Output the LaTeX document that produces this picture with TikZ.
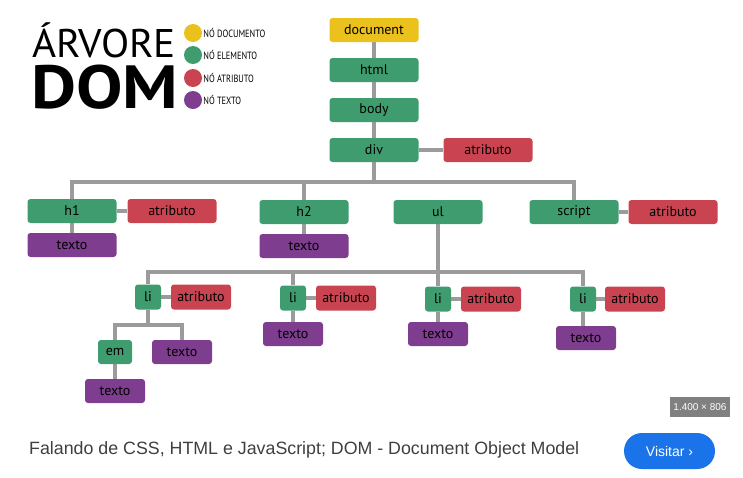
\documentclass[tikz,border=0pt]{standalone}
\usepackage{fontspec}
\setmainfont{PT Sans}
\newfontfamily\capfont{Liberation Sans}
\usepackage{tikz}
\usetikzlibrary{backgrounds,calc,positioning}
\definecolor{docyellow}{RGB}{235,193,30}
\definecolor{elgreen}{RGB}{62,156,111}
\definecolor{atred}{RGB}{201,68,80}
\definecolor{txpurple}{RGB}{126,61,143}
\definecolor{linegray}{RGB}{155,155,155}
\definecolor{badgegray}{RGB}{128,128,128}
\definecolor{gblue}{RGB}{26,115,232}
\definecolor{capgray}{RGB}{60,64,67}

\begin{document}
\begin{tikzpicture}
[x=1pt,y=-1pt,
			box/.style={rectangle,rounded corners=3pt,inner sep=0pt,minimum width=89pt,
				minimum height=24pt,font=\fontsize{14}{14}\selectfont},
			doc/.style={box,fill=docyellow},
			el/.style={box,fill=elgreen},
			attr/.style={box,fill=atred},
			txt/.style={box,fill=txpurple},
			small/.style={minimum width=60pt,minimum height=25pt},
			tiny/.style={minimum width=26pt,minimum height=25pt},
			key/.style={circle,inner sep=0pt,minimum size=18pt},
			keytext/.style={anchor=west,inner sep=1pt,font=\fontsize{10.5}{10.5}\selectfont},
			link/.style={draw=linegray,line width=3.5pt}]
\useasboundingbox (0,0) rectangle (743,477);

\node (arvore) at (32,57)[anchor=base west,inner sep=0pt,text depth=0pt,
			font=\fontsize{40}{40}\selectfont] {\scalebox{1.03}[1]{ÁRVORE}};
\node (dom) at (31,108)[anchor=base west,inner sep=0pt,text height=44pt,text depth=0pt,
			font=\fontsize{61}{61}\selectfont\bfseries] {\scalebox{1.14}[1]{DOM}};

\node (kdoc) at (193,33)[key,fill=docyellow] {};
\node (kel) at (193,55)[key,fill=elgreen] {};
\node (kattr) at (193,78)[key,fill=atred] {};
\node (ktxt) at (193,100)[key,fill=txpurple] {};
\node (ldoc) at (kdoc.east)[keytext] {\scalebox{0.8}[1]{NÓ DOCUMENTO}};
\node (lel) at (kel.east)[keytext] {\scalebox{0.8}[1]{NÓ ELEMENTO}};
\node (lattr) at (kattr.east)[keytext] {\scalebox{0.8}[1]{NÓ ATRIBUTO}};
\node (ltxt) at (ktxt.east)[keytext] {\scalebox{0.8}[1]{NÓ TEXTO}};

\node (document) at (374,30)[doc] {document};
\node (html) at (374,70)[el] {html};
\node (body) at (374,110)[el] {body};
\node (div) at (374,150)[el] {div};
\node (divattr) at (488,150)[attr] {atributo};

\node (h1) at (72,211)[el] {h1};
\node (h1attr) at (172,211)[attr] {atributo};
\node (h1txt) at (72,245)[txt] {texto};
\node (h2) at (304,212)[el] {h2};
\node (h2txt) at (304,246)[txt] {texto};
\node (ul) at (438,212)[el] {ul};
\node (script) at (574,212)[el] {script};
\node (scriptattr) at (673,212)[attr] {atributo};

\node (li1) at (148,297)[el,tiny] {li};
\node (li1attr) at (201,297)[attr,small] {atributo};
\node (em) at (115,352)[el,minimum width=34pt] {em};
\node (li1txt) at (182,352)[txt,small,minimum height=24pt] {texto};
\node (emtxt) at (115,391)[txt,small,minimum height=24pt] {texto};

\node (li2) at (293,298)[el,tiny] {li};
\node (li2attr) at (346,298)[attr,small] {atributo};
\node (li2txt) at (293,334)[txt,small,minimum height=24pt] {texto};
\node (li3) at (438,299)[el,tiny] {li};
\node (li3attr) at (491,299)[attr,small] {atributo};
\node (li3txt) at (438,334)[txt,small,minimum height=24pt] {texto};
\node (li4) at (583,299)[el,tiny] {li};
\node (li4attr) at (635,299)[attr,small] {atributo};
\node (li4txt) at (586,338)[txt,small,minimum height=24pt] {texto};

\coordinate (bus1) at (374,182);
\coordinate (bus2) at (438,272);
\coordinate (bus3) at (148,325);

\begin{scope}[on background layer]
\draw[link] (document) -- (html) -- (body) -- (div) -- (bus1);
\draw[link] (div) -- (divattr);
\draw[link] (h1) |- (bus1) -| (script);
\draw[link] (h2) -- (h2 |- bus1);
\draw[link] (ul) -- (bus2);
\draw[link] (h1) -- (h1attr);
\draw[link] (h1) -- (h1txt);
\draw[link] (h2) -- (h2txt);
\draw[link] (script) -- (scriptattr);

\draw[link] (li1) |- (bus2) -| (li4);
\draw[link] (li2) -- (li2 |- bus2);
\draw[link] (li3) -- (li3 |- bus2);
\draw[link] (li1) -- (li1attr);
\draw[link] (li2) -- (li2attr);
\draw[link] (li3) -- (li3attr);
\draw[link] (li4) -- (li4attr);
\draw[link] (li2) -- (li2txt);
\draw[link] (li3) -- (li3txt);
\draw[link] (li4) -- (li4txt.north -| li4);

\draw[link] (li1) -- (bus3);
\draw[link] (em) |- (bus3) -| (li1txt);
\draw[link] (em) -- (emtxt);
\end{scope}

\node (badge) at (700,407)[rectangle,fill=badgegray,minimum width=60pt,minimum height=20pt,inner sep=0pt,
			text=white,font=\capfont\fontsize{10}{10}\selectfont] {1.400 × 806};
\node (caption) at (29,450)[anchor=west,inner sep=0pt,text=capgray,
			font=\capfont\fontsize{17.8}{17.8}\selectfont] {Falando de CSS, HTML e JavaScript; DOM - Document Object Model};
\node (visit) at (669.5,451)[rectangle,rounded corners=17.9pt,fill=gblue,minimum width=91pt,minimum height=36pt,
			inner sep=0pt,text=white,font=\capfont\fontsize{14}{14}\selectfont] {Visitar ›};

\end{tikzpicture}
\end{document}
